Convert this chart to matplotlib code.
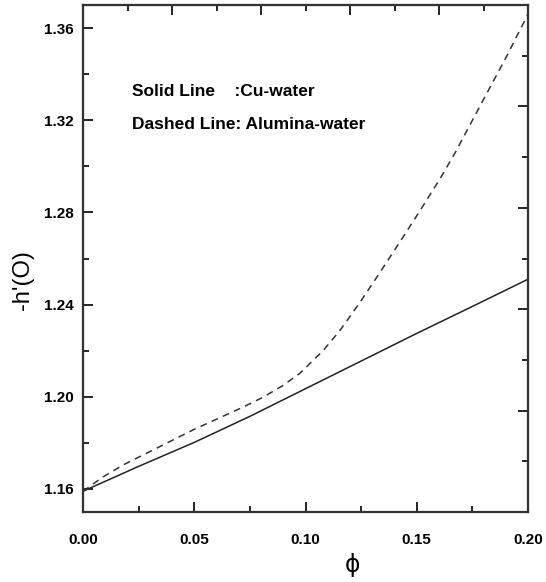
import matplotlib
matplotlib.use('Agg')
import matplotlib.pyplot as plt
from matplotlib.ticker import MultipleLocator

phi_cu = [0.0, 0.025, 0.05, 0.075, 0.10, 0.125, 0.15, 0.175, 0.20]
h_cu = [1.159, 1.1698, 1.1802, 1.1915, 1.2035, 1.2155, 1.2275, 1.2392, 1.251]

phi_al = [0.0, 0.009, 0.018, 0.036, 0.0494, 0.0719, 0.0809, 0.0899, 0.0975,
          0.1079, 0.1155, 0.1245, 0.1335, 0.1425, 0.1515, 0.1604, 0.1672,
          0.18, 0.19, 0.20]
h_al = [1.159, 1.1652, 1.1704, 1.1791, 1.1856, 1.1955, 1.1998, 1.2049, 1.2102,
        1.2200, 1.2288, 1.2410, 1.2540, 1.2673, 1.2808, 1.2945, 1.3058,
        1.329, 1.347, 1.366]

xticks = [0.0, 0.05, 0.10, 0.15, 0.20]
yticks = [1.16, 1.20, 1.24, 1.28, 1.32, 1.36]

plt.rcParams['font.family'] = ['Liberation Sans', 'DejaVu Sans']

fig = plt.figure(figsize=(5.46, 5.82), dpi=100)
ax = fig.add_axes([83/546, 70/582, 445/546, 507/582])

ax.plot(phi_cu, h_cu, color='#222222', lw=1.1, ls='-')
ax.plot(phi_al, h_al, color='#333333', lw=1.1, ls=(0, (4.5, 3.5)))

ax.set_xlim(0, 0.2)
ax.set_ylim(1.15, 1.37)
ax.set_xticks(xticks)
ax.set_xticklabels(['%.2f' % v for v in xticks])
ax.set_yticks(yticks)
ax.set_yticklabels(['%.2f' % v for v in yticks])
ax.xaxis.set_minor_locator(MultipleLocator(0.025))
ax.yaxis.set_minor_locator(MultipleLocator(0.02))
ax.tick_params(which='both', direction='in', width=1.2, top=False, right=False)
ax.tick_params(which='major', length=7)
ax.tick_params(which='minor', length=4)
ax.tick_params(axis='x', which='major', pad=15)
ax.tick_params(axis='y', which='major', pad=7)
for lab in ax.get_xticklabels() + ax.get_yticklabels():
    lab.set_fontweight('bold')
    lab.set_fontsize(11)
for s in ax.spines.values():
    s.set_linewidth(1.5)
    s.set_color('#333333')

# top and right axes carry their own tick spacing
top = ax.twiny()
top.set_xlim(0, 0.2)
top.xaxis.set_major_locator(MultipleLocator(0.04))
top.xaxis.set_minor_locator(MultipleLocator(0.02))
top.tick_params(which='both', direction='in', width=1.2, labeltop=False)
top.tick_params(which='major', length=7)
top.tick_params(which='minor', length=4)

right = ax.twinx()
right.set_ylim(0, 10)
right.yaxis.set_major_locator(MultipleLocator(2))
right.yaxis.set_minor_locator(MultipleLocator(1))
right.tick_params(which='both', direction='in', width=1.2, labelright=False)
right.tick_params(which='major', length=7)
right.tick_params(which='minor', length=4)
for a in (top, right):
    for s in a.spines.values():
        s.set_linewidth(1.5)
        s.set_color('#333333')

ax.text(0.022, 1.3325, 'Solid Line    :Cu-water', fontsize=12.5, fontweight='bold',
        va='center', ha='left')
ax.text(0.022, 1.318, 'Dashed Line: Alumina-water', fontsize=12.5, fontweight='bold',
        va='center', ha='left')

fig.text(23/546, 1 - 280/582, "-h'(O)", rotation=90, fontsize=17,
         ha='center', va='center')
fig.text(352/546, 1 - 565/582, '\u03d5', fontsize=17, ha='center', va='center',
         family=['DejaVu Sans'])

fig.savefig('out.png', dpi=100)
